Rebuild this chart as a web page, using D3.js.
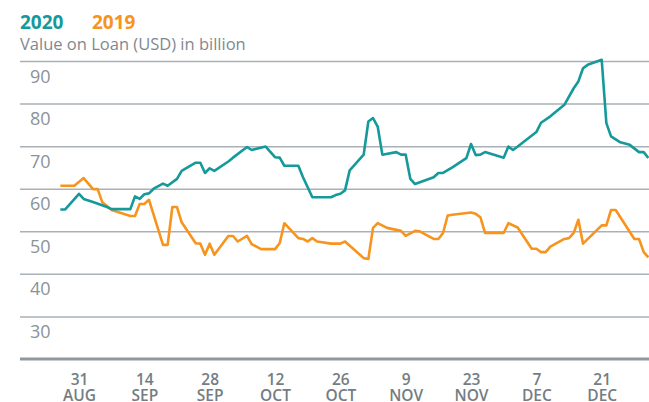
<!DOCTYPE html>
<html>
<head>
<meta charset="utf-8">
<script src="https://cdn.jsdelivr.net/npm/d3@7"></script>
<style>
  body { margin: 0; background: #fff; }
  svg { display: block; font-family: "Open Sans", sans-serif; }
</style>
</head>
<body>
<div id="chart"></div>
<script>
// data (2019 is plotted on the 2020 calendar)
var dates2020 = ["08-27","08-28","08-31","09-01","09-03","09-06","09-07","09-11","09-12","09-13","09-14","09-15","09-16","09-18","09-19","09-21","09-22","09-25","09-26","09-27","09-28","09-29","10-02","10-03","10-06","10-07","10-10","10-12","10-13","10-14","10-17","10-18","10-20","10-24","10-25","10-26","10-27","10-28","10-31","11-01","11-02","11-03","11-04","11-07","11-08","11-09","11-10","11-11","11-15","11-16","11-17","11-19","11-22","11-23","11-24","11-25","11-26","11-30","12-01","12-02","12-03","12-07","12-08","12-10","12-13","12-15","12-16","12-17","12-18","12-21","12-22","12-23","12-25","12-27","12-29","12-30","12-31"]
var values2020 = [55.1,55.1,58.8,57.6,56.9,55.7,55.2,55.2,58.2,57.6,58.7,58.9,60.0,61.2,60.7,62.3,64.2,66.1,66.1,63.7,64.8,64.2,66.4,67.3,69.8,69.1,69.9,67.4,67.3,65.4,65.4,62.7,58.0,58.0,58.5,58.8,59.6,64.3,68.0,75.8,76.6,74.6,68.0,68.6,68.0,68.0,62.3,61.1,62.7,63.7,63.7,65.0,67.2,70.5,67.9,68.0,68.6,67.3,69.9,69.1,69.9,73.3,75.5,77.0,79.7,83.6,85.2,88.3,89.1,90.3,75.4,72.3,70.9,70.3,68.6,68.6,67.2]

var dates2019 = ["08-27","08-30","09-01","09-03","09-04","09-05","09-07","09-11","09-12","09-13","09-14","09-15","09-18","09-19","09-20","09-21","09-22","09-25","09-26","09-27","09-28","09-29","10-02","10-03","10-04","10-06","10-07","10-09","10-12","10-13","10-14","10-17","10-18","10-19","10-20","10-21","10-24","10-26","10-27","10-31","11-01","11-02","11-03","11-05","11-08","11-09","11-11","11-12","11-15","11-16","11-17","11-18","11-19","11-23","11-24","11-25","11-26","11-30","12-01","12-03","12-06","12-07","12-08","12-09","12-10","12-13","12-14","12-15","12-16","12-17","12-21","12-22","12-23","12-24","12-28","12-29","12-30","12-31"]
var values2019 = [60.7,60.7,62.5,59.9,59.9,56.8,55.0,53.6,53.6,56.4,56.4,57.4,46.8,46.8,55.7,55.7,52.1,47.2,47.1,44.5,47.1,44.5,48.9,48.9,47.6,48.9,47.0,45.8,45.8,47.2,51.9,48.4,48.2,47.6,48.4,47.6,47.1,47.1,47.6,43.7,43.5,50.8,51.9,50.8,50.1,48.9,50.1,50.0,48.2,48.2,49.6,53.7,53.9,54.4,54.1,53.3,49.6,49.6,51.9,50.9,45.9,45.9,45.1,45.1,46.4,48.2,48.4,49.6,52.7,47.1,51.4,51.4,55.0,55.0,48.2,48.2,45.1,43.9]

var yTicks = [30, 40, 50, 60, 70, 80, 90]
var xTicks = ["08-31","09-14","09-28","10-12","10-26","11-09","11-23","12-07","12-21"]

var width = 649,
    height = 402

var parse = d3.timeParse("%Y-%m-%d")
function toDate(s) { return parse("2020-" + s) }

var svg = d3.select("#chart")
  .append("svg")
    .attr("width", width)
    .attr("height", height)

// scales: 31 Aug sits at 79px, 21 Dec at ~602px
var x = d3.scaleTime()
  .domain([toDate("08-31"), toDate("12-21")])
  .range([79, 601.7])

var y = d3.scaleLinear()
  .domain([20, 90])
  .range([359, 61])

// header
svg.append("text")
  .attr("x", 20).attr("y", 29)
  .style("font-size", "19px").style("font-weight", 700)
  .attr("fill", "#16999a")
  .text("2020")
svg.append("text")
  .attr("x", 92).attr("y", 29)
  .style("font-size", "19px").style("font-weight", 700)
  .attr("fill", "#f7941d")
  .text("2019")
svg.append("text")
  .attr("x", 20).attr("y", 50)
  .style("font-size", "16.5px")
  .attr("fill", "#7f898f")
  .text("Value on Loan (USD) in billion")

// y axis: grid lines with labels under each line
var yAxis = svg.append("g")
  .attr("transform", "translate(20,0)")
  .call(d3.axisRight(y).tickValues(yTicks).tickSize(width - 20).tickFormat(d3.format("d")))
yAxis.select(".domain").remove()
yAxis.selectAll(".tick line")
  .attr("stroke", "#aab1b6")
  .attr("stroke-width", 1.5)
yAxis.selectAll(".tick text")
  .attr("x", 10).attr("dy", 0).attr("y", 21)
  .attr("text-anchor", "start")
  .style("font-size", "18px")
  .style("font-family", "Open Sans, sans-serif")
  .attr("fill", "#8a9399")

// baseline
svg.append("line")
  .attr("x1", 20).attr("x2", width)
  .attr("y1", y(20)).attr("y2", y(20))
  .attr("stroke", "#8e989d")
  .attr("stroke-width", 3)

// x axis: day on first line, month on second
var fmtDay = d3.timeFormat("%-d"),
    fmtMon = d3.timeFormat("%b")
var xAxis = svg.append("g")
  .attr("transform", "translate(0," + y(20) + ")")
  .call(d3.axisBottom(x).tickValues(xTicks.map(toDate)).tickSize(0).tickFormat(""))
xAxis.select(".domain").remove()
xAxis.selectAll(".tick").each(function(d) {
  var t = d3.select(this).append("text")
    .attr("text-anchor", "middle")
    .attr("fill", "#737d83")
    .style("font-size", "15.5px")
    .style("font-weight", 600)
    .style("font-family", "Open Sans, sans-serif")
  t.append("tspan").attr("x", 0).attr("y", 25.5).text(fmtDay(d))
  t.append("tspan").attr("x", 0).attr("y", 41.5).text(fmtMon(d).toUpperCase())
})

var line = d3.line()
  .x(function(d) { return x(d.date) })
  .y(function(d) { return y(d.value) })

function series(dates, values) {
  return dates.map(function(s, i) { return {date: toDate(s), value: values[i]} })
}

svg.append("path")
  .datum(series(dates2019, values2019))
  .attr("d", line)
  .attr("fill", "none")
  .attr("stroke", "#f7941d")
  .attr("stroke-width", 2.6)
  .attr("stroke-linejoin", "round")

svg.append("path")
  .datum(series(dates2020, values2020))
  .attr("d", line)
  .attr("fill", "none")
  .attr("stroke", "#16999a")
  .attr("stroke-width", 2.6)
  .attr("stroke-linejoin", "round")
</script>
</body>
</html>
